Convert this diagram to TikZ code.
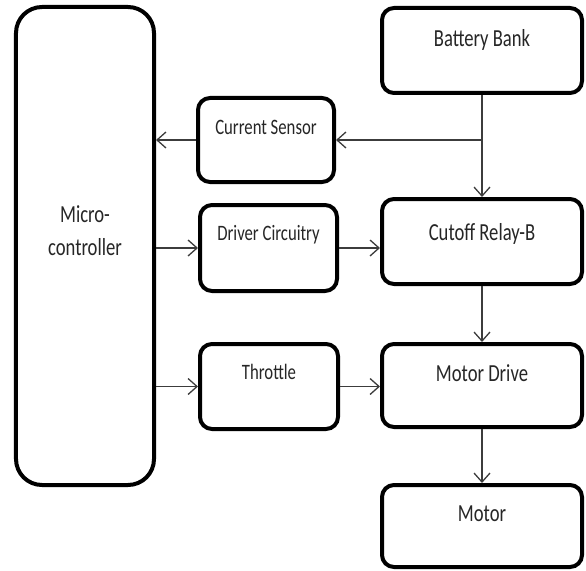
\documentclass[tikz,border=0pt]{standalone}
\usepackage{fontspec}
\setmainfont{Carlito}[FakeStretch=0.76]
\usetikzlibrary{arrows.meta}
\definecolor{arrowgrey}{HTML}{3C3C3C}
\tikzset{
  box/.style={draw=black, line width=4bp, rounded corners=12bp, inner sep=0pt, fill=white},
  bigtxt/.style={font=\fontsize{24.5bp}{33bp}\selectfont, inner sep=0pt, text=black!85},
  smalltxt/.style={font=\fontsize{22bp}{30bp}\selectfont, inner sep=0pt, text=black!85},
  arr/.style={draw=arrowgrey, line width=1.3bp, -{Straight Barb[length=9bp,width=16bp,line width=1.3bp]}},
}
\begin{document}
\begin{tikzpicture}[x=1bp,y=-1bp]
\useasboundingbox (0,0) rectangle (586,571);
% boxes
\node[box, rounded corners=26bp, minimum width=138bp, minimum height=478bp,
  label={[bigtxt, anchor=base, align=center, yshift=-250bp]north:Micro-\\controller}] (mc) at (85,246) {};
\node[box, minimum width=200bp, minimum height=85bp,
  label={[bigtxt, anchor=base, yshift=-41bp]north:Battery Bank}] (bat) at (482,50.5) {};
\node[box, minimum width=136bp, minimum height=84bp,
  label={[smalltxt, anchor=base, yshift=-39bp]north:Current Sensor}] (cs) at (266,140) {};
\node[box, minimum width=200bp, minimum height=85bp,
  label={[bigtxt, anchor=base, yshift=-43bp]north:Cutoff Relay-B}] (cut) at (482,241.5) {};
\node[box, minimum width=137bp, minimum height=86bp,
  label={[smalltxt, anchor=base, yshift=-37bp]north:Driver Circuitry}] (drv) at (268.5,248) {};
\node[box, minimum width=138bp, minimum height=85bp,
  label={[smalltxt, anchor=base, yshift=-37bp]north:Throttle}] (thr) at (269,386.5) {};
\node[box, minimum width=200bp, minimum height=83bp,
  label={[bigtxt, anchor=base, yshift=-39bp]north:Motor Drive}] (md) at (482,385.5) {};
\node[box, minimum width=200bp, minimum height=82bp,
  label={[bigtxt, anchor=base, yshift=-38bp]north:Motor}] (mot) at (482,526) {};
% connectors
\coordinate (j) at (bat.south |- cs.east);
\draw[arr] (bat.south) -- (cut.north);
\draw[arr] (j) -- (cs.east);
\draw[arr] (cs.west) -- (cs.west -| mc.east);
\draw[arr] (drv.west -| mc.east) -- (drv.west);
\draw[arr] (drv.east) -- (drv.east -| cut.west);
\draw[arr] (cut.south) -- (md.north);
\draw[arr] (thr.west -| mc.east) -- (thr.west);
\draw[arr] (thr.east) -- (thr.east -| md.west);
\draw[arr] (md.south) -- (mot.north);
\end{tikzpicture}
\end{document}
